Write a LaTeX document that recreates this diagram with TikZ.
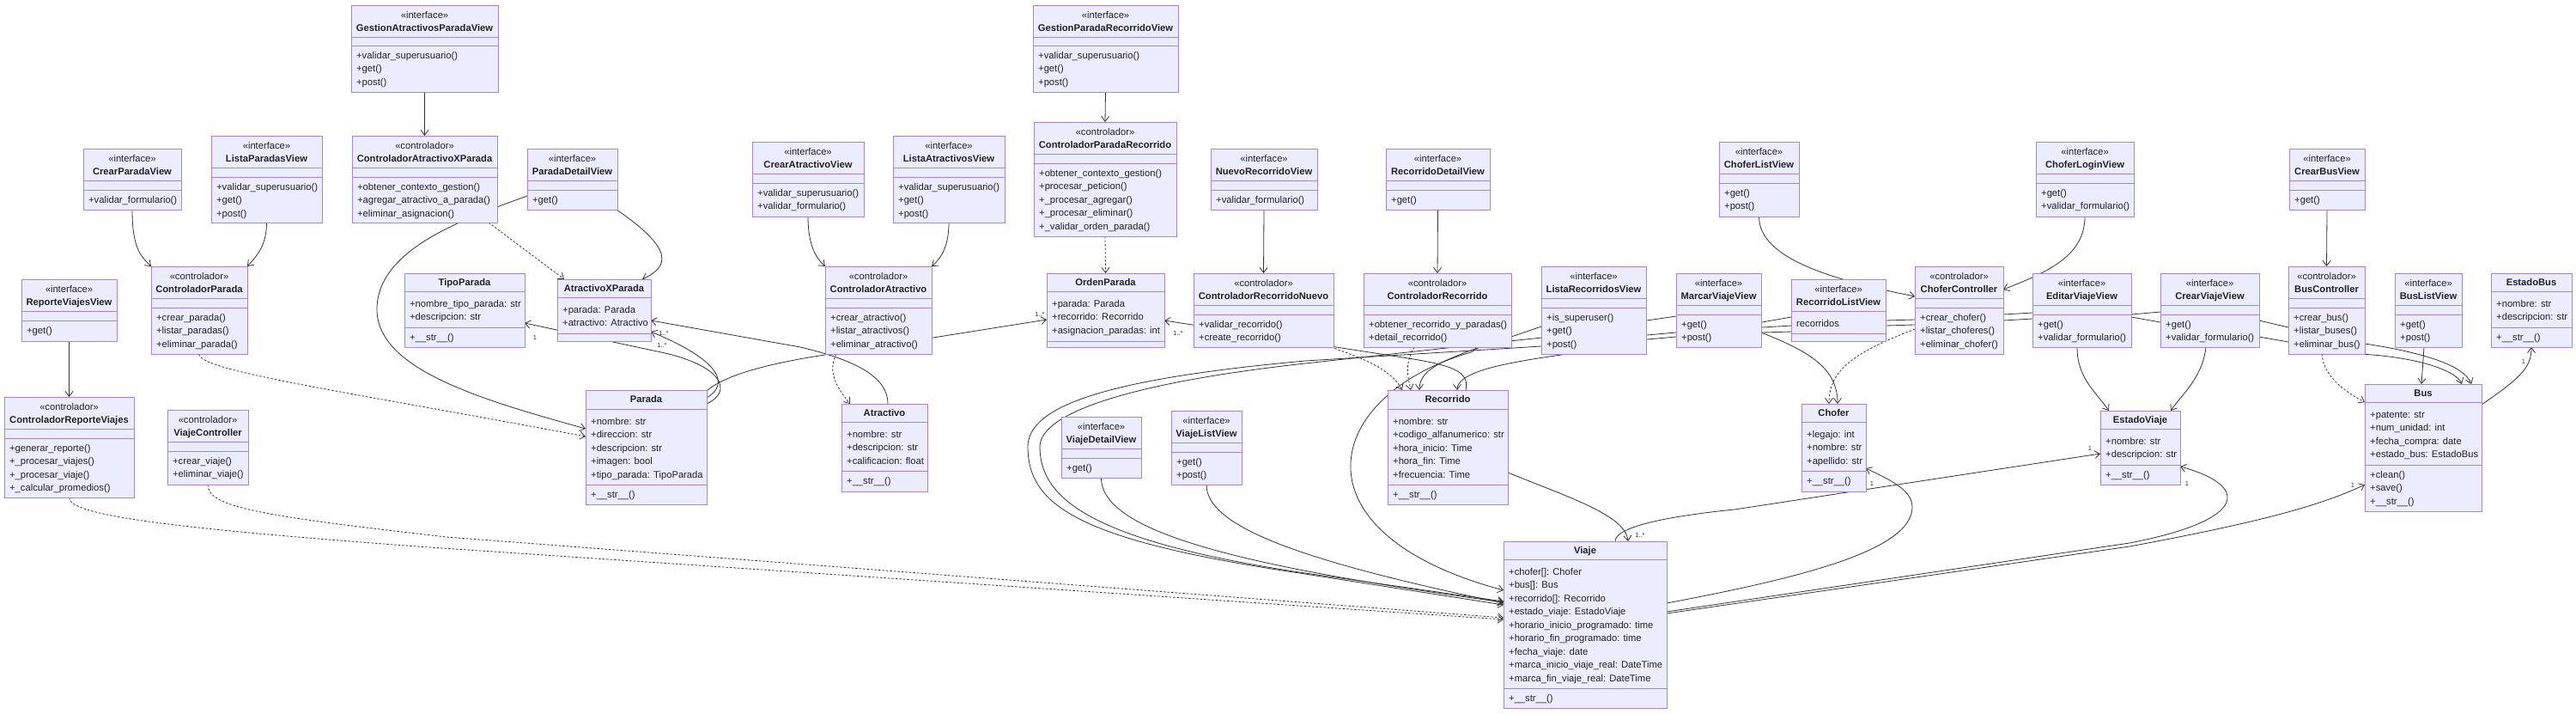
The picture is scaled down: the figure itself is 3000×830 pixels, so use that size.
\documentclass[tikz,border=0pt]{standalone}
\usepackage{fontspec}
\setmainfont{Liberation Sans}
\usetikzlibrary{arrows.meta,calc}
\definecolor{cfill}{HTML}{ECECFF}
\definecolor{cline}{HTML}{9370DB}
\definecolor{eline}{HTML}{333333}
\definecolor{ctext}{HTML}{222222}
\pgfdeclarelayer{bg}
\pgfdeclarelayer{edges}
\pgfsetlayers{bg,edges,main}
\newcommand\cfont{\fontsize{11.2}{15.5}\selectfont}
\tikzset{
  cls/.style={draw=cline!85, fill=cfill, line width=1pt, anchor=north west, inner sep=0pt, outer sep=0pt},
  cdiv/.style={draw=cline!85, line width=1pt},
  ctxt/.style={font=\cfont, text=ctext, inner sep=0pt},
  assoc/.style={draw=eline, line width=0.8pt, -{Straight Barb[length=6pt,width=9pt]}},
  depd/.style={assoc, dash pattern=on 2.5pt off 2pt},
  both/.style={draw=eline, line width=0.8pt, {Straight Barb[length=6pt,width=9pt]}-{Straight Barb[length=6pt,width=9pt]}},
  mult/.style={font=\fontsize{7.5}{8}\selectfont, text=eline, inner sep=0pt}
}
\newcommand\umlbox[7]{%
  \node[cls, minimum width={(#4-#2)*1pt}, minimum height={(#5-#3)*1pt}] (#1) at (#2,#3) {};
  \draw[cdiv] (#2,#6) -- (#4,#6) (#2,#7) -- (#4,#7);}
\newcommand\stereo[3]{%
  \node[ctxt, anchor=base] (#1-s) at ($(#1.north)+(0,15)$) {«#2»};
  \node[ctxt, font=\cfont\bfseries, anchor=base] (#1-n) at ($(#1.north)+(0,30.5)$) {#3};}
\newcommand\cname[2]{\node[ctxt, font=\cfont\bfseries, anchor=base] (#1-n) at ($(#1.north)+(0,14.5)$) {#2};}
\newcommand\attrs[4]{\foreach \itm [count=\k from 0] in {#4} {\node[ctxt, anchor=base west] (#1-a\k) at (#2+6,#3+18+15.5*\k) {\itm};}}
\newcommand\meths[4]{\foreach \itm [count=\k from 0] in {#4} {\node[ctxt, anchor=base west] (#1-m\k) at (#2+6,#3+15+15.5*\k) {\itm};}}
\begin{document}
\begin{tikzpicture}[x=1pt,y=-1pt]
\useasboundingbox (0,0) rectangle (3000,830);
\begin{pgfonlayer}{bg}\fill[white] (0,0) rectangle (3000,830);\end{pgfonlayer}

\umlbox{gapv}{409}{6}{580}{107}{43}{53}\stereo{gapv}{interface}{GestionAtractivosParadaView}\meths{gapv}{409}{53}{+validar\_superusuario(),+get(),+post()}
\umlbox{cpv}{97}{173}{211}{244}{210}{221}\stereo{cpv}{interface}{CrearParadaView}\meths{cpv}{97}{221}{+validar\_formulario()}
\umlbox{lpv}{246}{158}{375}{259}{195}{206}\stereo{lpv}{interface}{ListaParadasView}\meths{lpv}{246}{206}{+validar\_superusuario(),+get(),+post()}
\umlbox{caxp}{410}{158}{579}{259}{195}{206}\stereo{caxp}{controlador}{ControladorAtractivoXParada}\meths{caxp}{410}{206}{+obtener\_contexto\_gestion(),+agregar\_atractivo\_a\_parada(),+eliminar\_asignacion()}
\umlbox{cpar}{176}{310}{288}{412}{347}{358}\stereo{cpar}{controlador}{ControladorParada}\meths{cpar}{176}{358}{+crear\_parada(),+listar\_paradas(),+eliminar\_parada()}
\umlbox{rvv}{25}{325}{136}{397}{362}{373}\stereo{rvv}{interface}{ReporteViajesView}\meths{rvv}{25}{373}{+get()}
\umlbox{crv}{5}{462}{156}{579}{499}{510}\stereo{crv}{controlador}{ControladorReporteViajes}\meths{crv}{5}{510}{+generar\_reporte(),+\_procesar\_viajes(),+\_procesar\_viaje(),+\_calcular\_promedios()}
\umlbox{vc}{195}{477}{289}{564}{514}{525}\stereo{vc}{controlador}{ViajeController}\meths{vc}{195}{525}{+crear\_viaje(),+eliminar\_viaje()}
\umlbox{tp}{471}{318}{611}{404}{339}{381}\cname{tp}{TipoParada}\attrs{tp}{471}{339}{+nombre\_tipo\_parada: str,+descripcion: str}\meths{tp}{471}{381}{+\_\_str\_\_()}
\umlbox{pdv}{614}{173}{719}{244}{210}{221}\stereo{pdv}{interface}{ParadaDetailView}\meths{pdv}{614}{221}{+get()}
\umlbox{axp}{649}{325}{758}{397}{346}{388}\cname{axp}{AtractivoXParada}\attrs{axp}{649}{346}{+parada: Parada,+atractivo: Atractivo}
\umlbox{cav}{876}{165}{1006}{252}{202}{213}\stereo{cav}{interface}{CrearAtractivoView}\meths{cav}{876}{213}{+validar\_superusuario(),+validar\_formulario()}
\umlbox{lav}{1040}{158}{1170}{259}{195}{206}\stereo{lav}{interface}{ListaAtractivosView}\meths{lav}{1040}{206}{+validar\_superusuario(),+get(),+post()}
\umlbox{cat}{961}{310}{1085}{412}{347}{358}\stereo{cat}{controlador}{ControladorAtractivo}\meths{cat}{961}{358}{+crear\_atractivo(),+listar\_atractivos(),+eliminar\_atractivo()}
\umlbox{par}{682}{454}{823}{587}{476}{564}\cname{par}{Parada}\attrs{par}{682}{476}{+nombre: str,+direccion: str,+descripcion: str,+imagen: bool,+tipo\_parada: TipoParada}\meths{par}{682}{564}{+\_\_str\_\_()}
\umlbox{atr}{980}{470}{1080}{572}{491}{548}\cname{atr}{Atractivo}\attrs{atr}{980}{491}{+nombre: str,+descripcion: str,+calificacion: float}\meths{atr}{980}{548}{+\_\_str\_\_()}
\umlbox{gprv}{1203}{6}{1372}{107}{43}{53}\stereo{gprv}{interface}{GestionParadaRecorridoView}\meths{gprv}{1203}{53}{+validar\_superusuario(),+get(),+post()}
\umlbox{cpr}{1204}{142}{1370}{275}{179}{190}\stereo{cpr}{controlador}{ControladorParadaRecorrido}\meths{cpr}{1204}{190}{+obtener\_contexto\_gestion(),+procesar\_peticion(),+\_procesar\_agregar(),+\_procesar\_eliminar(),+\_validar\_orden\_parada()}
\umlbox{nrv}{1410}{173}{1534}{244}{210}{221}\stereo{nrv}{interface}{NuevoRecorridoView}\meths{nrv}{1410}{221}{+validar\_formulario()}
\umlbox{op}{1219}{318}{1356}{404}{339}{397}\cname{op}{OrdenParada}\attrs{op}{1219}{339}{+parada: Parada,+recorrido: Recorrido,+asignacion\_paradas: int}
\umlbox{crn}{1390}{318}{1553}{404}{355}{366}\stereo{crn}{controlador}{ControladorRecorridoNuevo}\meths{crn}{1390}{366}{+validar\_recorrido(),+create\_recorrido()}
\umlbox{vdv}{1236}{485}{1329}{556}{522}{533}\stereo{vdv}{interface}{ViajeDetailView}\meths{vdv}{1236}{533}{+get()}
\umlbox{vlv}{1364}{478}{1446}{564}{515}{526}\stereo{vlv}{interface}{ViajeListView}\meths{vlv}{1364}{526}{+get(),+post()}
\umlbox{rdv}{1614}{173}{1735}{244}{210}{221}\stereo{rdv}{interface}{RecorridoDetailView}\meths{rdv}{1614}{221}{+get()}
\umlbox{cr}{1588}{318}{1760}{404}{355}{366}\stereo{cr}{controlador}{ControladorRecorrido}\meths{cr}{1588}{366}{+obtener\_recorrido\_y\_paradas(),+detail\_recorrido()}
\umlbox{lrv}{1795}{310}{1917}{412}{347}{358}\stereo{lrv}{interface}{ListaRecorridosView}\meths{lrv}{1795}{358}{+is\_superuser(),+get(),+post()}
\umlbox{mvv}{1952}{318}{2051}{404}{355}{366}\stereo{mvv}{interface}{MarcarViajeView}\meths{mvv}{1952}{366}{+get(),+post()}
\umlbox{clv}{2002}{165}{2095}{252}{202}{213}\stereo{clv}{interface}{ChoferListView}\meths{clv}{2002}{213}{+get(),+post()}
\umlbox{rec}{1616}{454}{1756}{587}{476}{564}\cname{rec}{Recorrido}\attrs{rec}{1616}{476}{+nombre: str,+codigo\_alfanumerico: str,+hora\_inicio: Time,+hora\_fin: Time,+frecuencia: Time}\meths{rec}{1616}{564}{+\_\_str\_\_()}
\umlbox{via}{1751}{630}{1941}{824}{651}{801}\cname{via}{Viaje}\attrs{via}{1751}{651}{+chofer[]: Chofer,+bus[]: Bus,+recorrido[]: Recorrido,+estado\_viaje: EstadoViaje,+horario\_inicio\_programado: time,+horario\_fin\_programado: time,+fecha\_viaje: date,+marca\_inicio\_viaje\_real: DateTime,+marca\_fin\_viaje\_real: DateTime}\meths{via}{1751}{801}{+\_\_str\_\_()}
\umlbox{rlv}{2086}{325}{2196}{397}{362}{388}\stereo{rlv}{interface}{RecorridoListView}\attrs{rlv}{2086}{362}{recorridos}
\umlbox{cc}{2230}{310}{2333}{412}{347}{358}\stereo{cc}{controlador}{ChoferController}\meths{cc}{2230}{358}{+crear\_chofer(),+listar\_choferes(),+eliminar\_chofer()}
\umlbox{clgv}{2371}{165}{2485}{252}{202}{213}\stereo{clgv}{interface}{ChoferLoginView}\meths{clgv}{2371}{213}{+get(),+validar\_formulario()}
\umlbox{evv}{2367}{318}{2482}{404}{355}{366}\stereo{evv}{interface}{EditarViajeView}\meths{evv}{2367}{366}{+get(),+validar\_formulario()}
\umlbox{cho}{2098}{470}{2173}{572}{491}{548}\cname{cho}{Chofer}\attrs{cho}{2098}{491}{+legajo: int,+nombre: str,+apellido: str}\meths{cho}{2098}{548}{+\_\_str\_\_()}
\umlbox{ev}{2446}{478}{2539}{564}{499}{541}\cname{ev}{EstadoViaje}\attrs{ev}{2446}{499}{+nombre: str,+descripcion: str}\meths{ev}{2446}{541}{+\_\_str\_\_()}
\umlbox{cbv}{2666}{173}{2754}{244}{210}{221}\stereo{cbv}{interface}{CrearBusView}\meths{cbv}{2666}{221}{+get()}
\umlbox{cvv}{2516}{318}{2631}{404}{355}{366}\stereo{cvv}{interface}{CrearViajeView}\meths{cvv}{2516}{366}{+get(),+validar\_formulario()}
\umlbox{bc}{2665}{310}{2754}{412}{347}{358}\stereo{bc}{controlador}{BusController}\meths{bc}{2665}{358}{+crear\_bus(),+listar\_buses(),+eliminar\_bus()}
\umlbox{blv}{2789}{318}{2867}{404}{355}{366}\stereo{blv}{interface}{BusListView}\meths{blv}{2789}{366}{+get(),+post()}
\umlbox{eb}{2901}{318}{2995}{404}{339}{381}\cname{eb}{EstadoBus}\attrs{eb}{2901}{339}{+nombre: str,+descripcion: str}\meths{eb}{2901}{381}{+\_\_str\_\_()}
\umlbox{bus}{2754}{447}{2890}{595}{468}{541}\cname{bus}{Bus}\attrs{bus}{2754}{468}{+patente: str,+num\_unidad: int,+fecha\_compra: date,+estado\_bus: EstadoBus}\meths{bus}{2754}{541}{+clean(),+save(),+\_\_str\_\_()}

\begin{pgfonlayer}{edges}
\draw[assoc] (gapv.south) -- (caxp.north);
\draw[assoc] (cpv.south) .. controls (154,285) and (162,297) .. (cpar.north west);
\draw[assoc] (lpv.south) .. controls (310.5,285) and (300,297) .. (cpar.north east);
\draw[assoc] (rvv.south) -- (crv.north);
\draw[depd] (cpar.south) .. controls (232,432) and (400,455) .. ($(par.north west)+(0,54)$);
\draw[assoc] ($(pdv.north west)+(0,55)$) .. controls (540,255) and (439,290) .. (439,360) .. controls (439,430) and (560,465) .. ($(par.north west)+(0,45)$);
\draw[depd] ($(caxp.north west)+(159,101)$) -- ($(axp.north west)+(8,0)$);
\draw[assoc] ($(pdv.north west)+(104,71)$) .. controls (785,290) and (780,310) .. ($(axp.north west)+(99,0)$);
\draw[assoc] ($(par.north west)+(141,16)$) .. controls (855,455) and (840,425) .. (770,410) -- ($(tp.north west)+(140,58)$);
\draw[assoc] ($(par.north west)+(141,9)$) .. controls (850,447) and (840,420) .. ($(axp.north west)+(109,61)$);
\draw[assoc] ($(atr.north west)+(54,0)$) .. controls (1034,440) and (1000,420) .. (932,404) -- ($(axp.north west)+(109,48)$);
\draw[assoc] ($(par.north west)+(141,1)$) .. controls (840,440) and (880,425) .. (967,412) -- ($(op.north west)+(0,54)$);
\draw[depd] ($(cat.north west)+(13,102)$) .. controls (962,435) and (978,455) .. ($(atr.north west)+(10,0)$);
\draw[assoc] (cav.south) .. controls (941,285) and (950,300) .. (cat.north west);
\draw[assoc] (lav.south) .. controls (1105,285) and (1097,300) .. (cat.north east);
\draw[assoc] (gprv.south) -- (cpr.north);
\draw[depd] (cpr.south) -- (op.north);
\draw[assoc] (nrv.south) -- (crn.north);
\draw[assoc] (rdv.south) -- (cr.north);
\draw[assoc] ($(rec.north west)+(91,0)$) .. controls (1712,432) and (1690,425) .. (1640,417) -- ($(op.north west)+(137,55)$);
\draw[depd] ($(crn.north west)+(160,86)$) .. controls (1590,418) and (1620,430) .. ($(rec.north west)+(17,0)$);
\draw[depd] ($(cr.north west)+(59,86)$) .. controls (1635,425) and (1640,440) .. ($(rec.north west)+(27,0)$);
\draw[assoc] ($(lrv.north west)+(30,102)$) .. controls (1770,420) and (1697,430) .. ($(rec.north west)+(81,0)$);
\draw[assoc] ($(rlv.north west)+(0,44)$) -- (2052,375) -- (1952,368) -- (1918,373) -- (1795,380) -- (1760,392) -- (1723,404) .. controls (1680,420) and (1653,430) .. ($(rec.north west)+(37,0)$);
\draw[assoc] ($(cr.north west)+(135,86)$) -- (1713,410) .. controls (1540,460) and (1500,620) .. ($(via.north west)+(0,57)$);
\draw[both] ($(bus.north west)+(124,0)$) .. controls (2870,425) and (2820,410) .. (2754,400) -- (2665,381) -- (2631,373) -- (2516,363) -- (2482,366) -- (2367,364) -- (2333,366) -- (2230,372) -- (2196,373) -- (2087,379) -- (2052,381) -- (1952,387) -- (1918,390) -- (1795,393) -- (1520,423) .. controls (1320,445) and (1211,480) .. (1211,520) .. controls (1211,580) and (1270,630) .. (1520,667) -- ($(via.north west)+(0,70)$);
\draw[both] ($(bus.north west)+(113,0)$) .. controls (2860,430) and (2810,415) .. (2748,412) -- (2665,398) -- (2631,392) -- (2516,375) -- (2482,369) -- (2367,371) -- (2333,373) -- (2230,378) -- (2196,379) -- (2087,386) -- (2052,387) -- (1952,392) -- (1918,395) -- (1795,403) -- (1520,420) .. controls (1300,440) and (1197,470) .. (1197,520) .. controls (1197,590) and (1260,630) .. (1520,668) -- ($(via.north west)+(0,74)$);
\draw[depd] (crv.south) .. controls (80,600) and (200,615) .. (500,637) -- ($(via.north west)+(0,91)$);
\draw[depd] (vc.south) .. controls (242,590) and (300,600) .. (520,625) -- ($(via.north west)+(0,89)$);
\draw[assoc] (vdv.south) .. controls (1282,620) and (1450,660) .. ($(via.north west)+(0,71)$);
\draw[assoc] (vlv.south) .. controls (1405,610) and (1500,650) .. ($(via.north west)+(0,72)$);
\draw[assoc] ($(rec.north west)+(140,96)$) .. controls (1830,580) and (1893,600) .. ($(via.north west)+(145,0)$);
\draw[assoc] ($(via.north west)+(130,0)$) .. controls (1881,612) and (1950,600) .. (2020,593) -- ($(ev.north west)+(0,50)$);
\draw[assoc] ($(via.north east)+(0,72)$) .. controls (2100,672) and (2227,640) .. (2227,590) .. controls (2227,570) and (2200,558) .. ($(cho.north east)+(0,75)$);
\draw[assoc] ($(via.north east)+(0,82)$) -- (2480,632) .. controls (2620,605) and (2620,565) .. ($(ev.north east)+(0,65)$);
\draw[assoc] ($(via.north east)+(0,84)$) -- (2480,636) .. controls (2620,610) and (2700,590) .. ($(bus.north west)+(0,117)$);
\draw[assoc] ($(bus.north east)+(0,24)$) .. controls (2935,440) and (2948,428) .. (eb.south);
\draw[depd] ($(bc.north west)+(39,102)$) .. controls (2706,440) and (2735,458) .. ($(bus.north west)+(0,21)$);
\draw[assoc] ($(blv.north west)+(34,86)$) -- ($(bus.north west)+(66,0)$);
\draw[assoc] (cbv.south) -- (bc.north);
\draw[assoc] (clv.south) .. controls (2048.5,300) and (2130,325) .. ($(cc.north west)+(0,35)$);
\draw[assoc] (clgv.south) .. controls (2428,300) and (2380,318) .. ($(cc.north east)+(0,27)$);
\draw[depd] ($(cc.north west)+(0,73)$) .. controls (2160,410) and (2130,430) .. ($(cho.north west)+(32,0)$);
\draw[assoc] ($(mvv.north east)+(0,69)$) .. controls (2110,410) and (2140,430) .. ($(cho.north west)+(42,0)$);
\draw[assoc] ($(evv.north west)+(52,86)$) .. controls (2419,440) and (2440,455) .. ($(ev.north west)+(10,0)$);
\draw[assoc] ($(cvv.north west)+(53,86)$) .. controls (2565,440) and (2540,460) .. ($(ev.north west)+(82,0)$);
\end{pgfonlayer}

\node[mult] (m1) at (623,393) {1};
\node[mult] (m2) at (773,388) {1..*};
\node[mult] (m3) at (771,402) {1..*};
\node[mult] (m4) at (1211,366) {1..*};
\node[mult] (m5) at (1372,388) {1..*};
\node[mult] (m6) at (1910,623) {1..*};
\node[mult] (m7) at (2180,563) {1};
\node[mult] (m8) at (2434,522) {1};
\node[mult] (m9) at (2547,563) {1};
\node[mult] (m10) at (2740,565) {1};
\node[mult] (m11) at (2939,421) {1};
\end{tikzpicture}
\end{document}
